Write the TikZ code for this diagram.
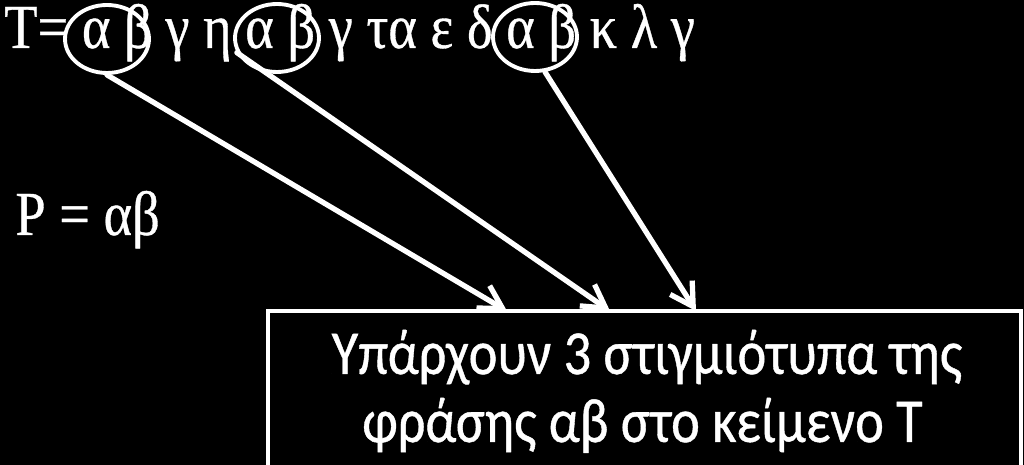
\documentclass[tikz,border=0pt]{standalone}
\usepackage{graphicx}
\usepackage{fontspec}
\setmainfont{Liberation Serif}[FakeBold = 0.6]
\newfontfamily\boxfont{Carlito}[FakeBold = 0.7]
\usetikzlibrary{shapes.geometric, arrows.meta}

\newcommand{\tall}[1]{\scalebox{1}[1.15]{#1}}

\begin{document}
\begin{tikzpicture}[x = 0.02 cm, y = -0.02 cm, > = {Straight Barb[length = 0.45cm, width = 0.52cm]},
	ring/.style = {draw = white, line width = 2.2pt, ellipse, minimum width = 1.68cm, minimum height = 1.36cm, inner sep = 0},
	hit/.style = {->, white, line width = 3pt, line cap = round},
	txt/.style = {white, inner sep = 0, font = \fontsize{31}{37}\selectfont}]

	% Background
	
	\clip (0, 0) rectangle (1024, 465);
	\fill [black] (0, 0) rectangle (1024, 465);

	% Text and pattern
	
	\node [txt, anchor = base west] (text) at (4, 48) {\tall{T= α β γ η α β γ τα ε δ α β κ λ γ}};
	\node [txt, anchor = base west] (pat) at (15, 235) {\tall{P = αβ}};

	% Occurrences
	
	\node [ring] (e1) at (107, 39) {};
	\node [ring] (e2) at (277, 38) {};
	\node [ring] (e3) at (535, 37) {};

	% Result box
	
	\node [draw = white, line width = 2pt, minimum width = 15.06cm, minimum height = 3.78cm, inner sep = 0] (box) at (644.5, 405.5) {};
	\node [txt, font = \boxfont\fontsize{31}{37}\selectfont, anchor = base] (line1) at (647, 374) {\tall{Υπάρχουν 3 στιγμιότυπα της}};
	\node [txt, font = \boxfont\fontsize{31}{37}\selectfont, anchor = base] (line2) at (642.5, 442) {\tall{φράσης αβ στο κείμενο T}};

	% Arrows
	
	\coordinate (t1) at (507, 311);
	\coordinate (t2) at (610, 311);
	\coordinate (t3) at (696, 311);
	
	\draw [hit] (e1.south) -- (t1);
	\draw [hit] (e2.200) -- (t2);
	\draw [hit] (e3.286) -- (t3);

\end{tikzpicture}
\end{document}
